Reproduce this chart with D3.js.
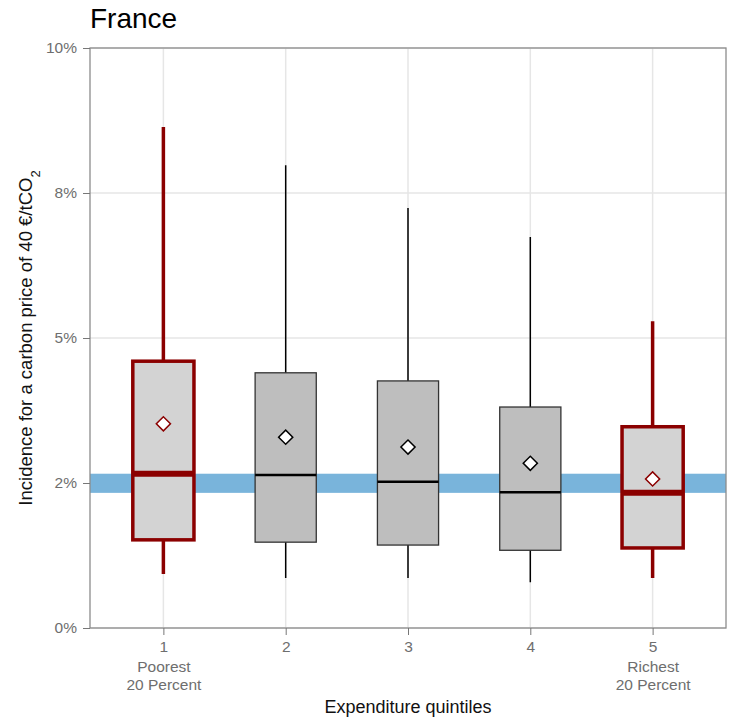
<!DOCTYPE html>
<html>
<head>
<meta charset="utf-8">
<script src="https://cdn.jsdelivr.net/npm/d3@7"></script>
<style>
  body { margin: 0; background: #fff; }
  text { font-family: "Liberation Sans", Arial, sans-serif; }
</style>
</head>
<body>
<div id="chart"></div>
<script>
// values (percent)
var quintiles = ["1", "2", "3", "4", "5"];
var subLabels = [["Poorest", "20 Percent"], [], [], [], ["Richest", "20 Percent"]];
var whiskerLow = [0.93, 0.86, 0.86, 0.79, 0.86];
var q1 = [1.52, 1.48, 1.43, 1.34, 1.38];
var median = [2.66, 2.64, 2.52, 2.34, 2.33];
var q3 = [4.60, 4.40, 4.26, 3.81, 3.47];
var whiskerHigh = [8.64, 7.98, 7.24, 6.74, 5.29];
var mean = [3.52, 3.29, 3.12, 2.84, 2.57];
var highlighted = [true, false, false, false, true];
var band = [2.33, 2.66];
var yTicks = [0, 2.5, 5, 7.5, 10];
var yTickLabels = ["0%", "2%", "5%", "8%", "10%"];

function init() {
    var width = 729;
    var height = 717;
    var left = 90, right = 726, top = 48, bottom = 628;
    var font = "Liberation Sans, Arial, sans-serif";

    var svg = d3.select("#chart")
        .append("svg")
        .attr("width", width)
        .attr("height", height);

    var x = d3.scalePoint()
        .domain(quintiles)
        .range([left, right])
        .padding(0.6);

    var y = d3.scaleLinear()
        .domain([0, 10])
        .range([bottom, top]);

    var boxW = x.step() * 0.5;

    var data = quintiles.map(function (q, i) {
        return {
            q: q, lo: whiskerLow[i], q1: q1[i], med: median[i], q3: q3[i],
            hi: whiskerHigh[i], mean: mean[i], hl: highlighted[i], sub: subLabels[i]
        };
    });

    // grid
    svg.append("g").selectAll("line")
        .data(yTicks)
        .enter().append("line")
        .attr("x1", left).attr("x2", right)
        .attr("y1", function (d) { return y(d); })
        .attr("y2", function (d) { return y(d); })
        .attr("stroke", "#e6e6e6").attr("stroke-width", 1.5);

    svg.append("g").selectAll("line")
        .data(quintiles)
        .enter().append("line")
        .attr("x1", function (d) { return x(d); })
        .attr("x2", function (d) { return x(d); })
        .attr("y1", top).attr("y2", bottom)
        .attr("stroke", "#e6e6e6").attr("stroke-width", 1.5);

    // reference band
    svg.append("rect")
        .attr("x", left)
        .attr("width", right - left)
        .attr("y", y(band[1]))
        .attr("height", y(band[0]) - y(band[1]))
        .attr("fill", "#79b4db");

    var boxes = svg.append("g").selectAll("g")
        .data(data)
        .enter().append("g");

    function col(d) { return d.hl ? "#8b0000" : "#000"; }

    // whiskers
    boxes.append("line")
        .attr("x1", function (d) { return x(d.q); })
        .attr("x2", function (d) { return x(d.q); })
        .attr("y1", function (d) { return y(d.hi); })
        .attr("y2", function (d) { return y(d.lo); })
        .attr("stroke", col)
        .attr("stroke-width", function (d) { return d.hl ? 3.5 : 1.5; });

    boxes.append("rect")
        .attr("x", function (d) { return x(d.q) - boxW / 2; })
        .attr("width", boxW)
        .attr("y", function (d) { return y(d.q3); })
        .attr("height", function (d) { return y(d.q1) - y(d.q3); })
        .attr("fill", function (d) { return d.hl ? "#d3d3d3" : "#bebebe"; })
        .attr("stroke", function (d) { return d.hl ? "#8b0000" : "#333"; })
        .attr("stroke-width", function (d) { return d.hl ? 3.5 : 1.3; });

    boxes.append("line")
        .attr("x1", function (d) { return x(d.q) - boxW / 2; })
        .attr("x2", function (d) { return x(d.q) + boxW / 2; })
        .attr("y1", function (d) { return y(d.med); })
        .attr("y2", function (d) { return y(d.med); })
        .attr("stroke", col)
        .attr("stroke-width", function (d) { return d.hl ? 6 : 2.5; });

    // means
    boxes.append("path")
        .attr("d", d3.symbol().type(d3.symbolSquare).size(100))
        .attr("transform", function (d) {
            return "translate(" + x(d.q) + "," + y(d.mean) + ") rotate(45)";
        })
        .attr("fill", "#fff")
        .attr("stroke", col)
        .attr("stroke-width", 1.5);

    // panel border
    svg.append("rect")
        .attr("x", left).attr("y", top)
        .attr("width", right - left).attr("height", bottom - top)
        .attr("fill", "none")
        .attr("stroke", "#8c8c8c")
        .attr("stroke-width", 1.3);

    // y axis
    var yAxis = svg.append("g")
        .attr("transform", "translate(" + left + ",0)")
        .call(d3.axisLeft(y).tickValues(yTicks)
            .tickFormat(function (d, i) { return yTickLabels[i]; })
            .tickSize(7).tickPadding(6));
    yAxis.select(".domain").remove();
    yAxis.selectAll("line").attr("stroke", "#777");
    yAxis.selectAll("text").attr("fill", "#6e6e6e").attr("font-size", 15.5)
        .attr("font-family", font);

    // x axis
    var xAxis = svg.append("g")
        .attr("transform", "translate(0," + bottom + ")")
        .call(d3.axisBottom(x).tickSize(7).tickPadding(6));
    xAxis.select(".domain").remove();
    xAxis.selectAll("line").attr("stroke", "#777");
    xAxis.selectAll("text").attr("fill", "#6e6e6e").attr("font-size", 15.5)
        .attr("font-family", font);

    xAxis.selectAll(".tick").each(function (q, i) {
        d3.select(this).selectAll(".sub")
            .data(subLabels[i])
            .enter().append("text")
            .attr("class", "sub")
            .attr("y", function (d, j) { return 44 + j * 18; })
            .attr("text-anchor", "middle")
            .attr("fill", "#6e6e6e")
            .attr("font-size", 15.5)
            .attr("font-family", font)
            .text(function (d) { return d; });
    });

    // titles
    svg.append("text")
        .attr("x", left)
        .attr("y", 28)
        .attr("font-size", 28)
        .attr("fill", "#000")
        .text("France");

    svg.append("text")
        .attr("x", (left + right) / 2)
        .attr("y", 713)
        .attr("text-anchor", "middle")
        .attr("font-size", 18)
        .attr("fill", "#111")
        .text("Expenditure quintiles");

    var yl = svg.append("text")
        .attr("transform", "translate(32," + ((top + bottom) / 2) + ") rotate(-90)")
        .attr("text-anchor", "middle")
        .attr("font-size", 18.5)
        .attr("fill", "#111");
    yl.append("tspan").text("Incidence for a carbon price of 40 €/tCO");
    yl.append("tspan").attr("baseline-shift", "sub").attr("font-size", 13).text("2");
}

window.onload = init;
</script>
</body>
</html>
